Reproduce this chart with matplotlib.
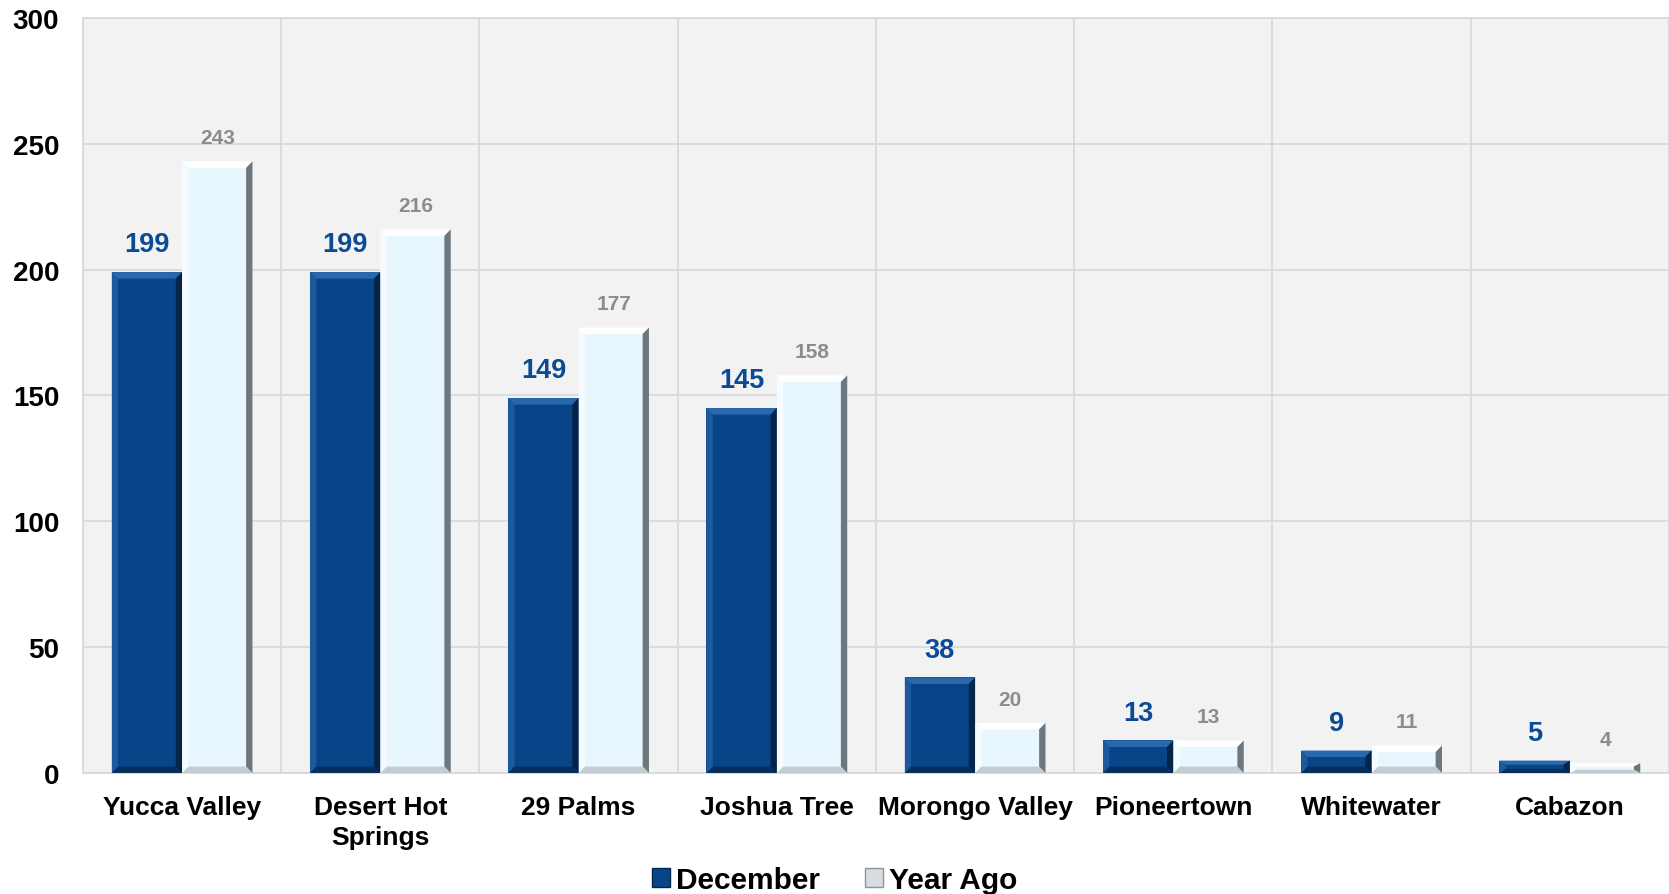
import matplotlib.pyplot as plt
from matplotlib.patches import Polygon, Patch
import numpy as np

plt.rcParams['font.family'] = ['Liberation Sans', 'DejaVu Sans']
plt.rcParams['font.weight'] = 'bold'

categories = ["Yucca Valley", "Desert Hot\nSprings", "29 Palms", "Joshua Tree",
              "Morongo Valley", "Pioneertown", "Whitewater", "Cabazon"]
december = [199, 199, 149, 145, 38, 13, 9, 5]
year_ago = [243, 216, 177, 158, 20, 13, 11, 4]

dec_color = '#084588'
ya_color = '#e8f6fd'
dec_text = '#0b4a94'
ya_text = '#8c8c8c'


def bevel(ax, x0, w, h, light, dark, side):
    # fake 3d bevel edges on a bar
    bx = 0.032
    by = min(2.6, h / 3.0)
    x1 = x0 + w
    ax.add_patch(Polygon([(x0, h), (x1, h), (x1 - bx, h - by), (x0 + bx, h - by)],
                         closed=True, facecolor=light, edgecolor='none', zorder=4))
    ax.add_patch(Polygon([(x1, 0), (x1, h), (x1 - bx, h - by), (x1 - bx, by)],
                         closed=True, facecolor=side, edgecolor='none', zorder=4))
    ax.add_patch(Polygon([(x0, 0), (x0, h), (x0 + bx, h - by), (x0 + bx, by)],
                         closed=True, facecolor=light, edgecolor='none', zorder=4, alpha=0.6))
    ax.add_patch(Polygon([(x0, 0), (x1, 0), (x1 - bx, by), (x0 + bx, by)],
                         closed=True, facecolor=dark, edgecolor='none', zorder=4))


fig = plt.figure(figsize=(16.69, 8.95), dpi=100)
ax = fig.add_axes([0.0497, 0.135, 0.9503, 0.844])
ax.set_facecolor('#f2f2f2')

x = np.arange(len(categories))
w = 0.355

b1 = ax.bar(x - w / 2, december, w, color=dec_color, zorder=3)
b2 = ax.bar(x + w / 2, year_ago, w, color=ya_color, zorder=3)

for r in b1:
    bevel(ax, r.get_x(), r.get_width(), r.get_height(), '#2a68ad', '#062f5c', '#04254a')
for r in b2:
    bevel(ax, r.get_x(), r.get_width(), r.get_height(), '#ffffff', '#c3ccd1', '#6d777e')

for xi, v in zip(x, december):
    ax.annotate(str(v), (xi - w / 2, v), xytext=(0, 20), textcoords='offset points',
                ha='center', va='center', color=dec_text, fontsize=19.5, fontweight='bold')
for xi, v in zip(x, year_ago):
    ax.annotate(str(v), (xi + w / 2, v), xytext=(0, 17), textcoords='offset points',
                ha='center', va='center', color=ya_text, fontsize=15, fontweight='bold')

ax.set_xlim(-0.5, len(categories) - 0.5)
ax.set_ylim(0, 300)
ax.set_yticks([0, 50, 100, 150, 200, 250, 300])
ax.set_xticks(x)
ax.set_xticklabels(categories, fontsize=19, fontweight='bold', linespacing=1.3)
ax.tick_params(axis='y', length=0, pad=17, labelsize=20)
ax.tick_params(axis='x', length=0, pad=16)
for lbl in ax.get_yticklabels():
    lbl.set_fontweight('bold')

ax.set_xticks(np.arange(-0.5, len(categories), 1), minor=True)
ax.grid(axis='y', color='#d9d9d9', linewidth=1.3, zorder=0)
ax.grid(axis='x', which='minor', color='#d9d9d9', linewidth=1.3, zorder=0)
ax.tick_params(axis='x', which='minor', length=0)
ax.set_axisbelow(True)
for s in ax.spines.values():
    s.set_color('#d9d9d9')
    s.set_linewidth(1.3)

handles = [Patch(facecolor=dec_color, edgecolor='#04254a', label='December'),
           Patch(facecolor='#d5dde2', edgecolor='#8a949a', label='Year Ago')]
fig.legend(handles=handles, loc='lower center', bbox_to_anchor=(0.5, -0.03), ncol=2,
           frameon=False, handlelength=0.6, handleheight=0.6,
           handletextpad=0.2, columnspacing=1.5, prop={'weight': 'bold', 'size': 21.5})

plt.savefig("out.png", dpi=100)
